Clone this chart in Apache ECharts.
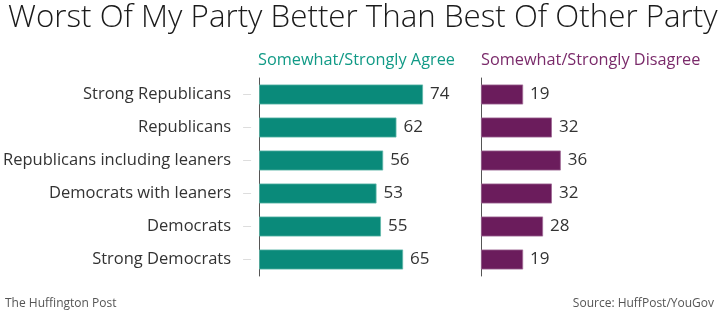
<!DOCTYPE html>
<html>
<head>
<meta charset="utf-8">
<script src="https://cdn.jsdelivr.net/npm/echarts@6/dist/echarts.min.js"></script>
<style>
  html, body { margin: 0; padding: 0; background: #fff; }
  #chart { width: 720px; height: 321px; }
</style>
</head>
<body>
<div id="chart"></div>
<script>
// Survey groups, top to bottom
const categories = [
  'Strong Republicans',
  'Republicans',
  'Republicans including leaners',
  'Democrats with leaners',
  'Democrats',
  'Strong Democrats'
];
// Percent who somewhat/strongly agree
const agree = [74, 62, 56, 53, 55, 65];
// Percent who somewhat/strongly disagree
const disagree = [19, 32, 36, 32, 28, 19];

const headers = ['Somewhat/Strongly Agree', 'Somewhat/Strongly Disagree'];

const TEAL = '#0a8a7a';
const PURPLE = '#6b1c5c';
const FONT = '"Open Sans", "Noto Sans", sans-serif';

const chart = echarts.init(document.getElementById('chart'), null, { renderer: 'canvas' });

const valueLabel = {
  show: true,
  position: 'right',
  distance: 7,
  fontFamily: FONT,
  fontSize: 17,
  color: '#333'
};

chart.setOption({
  backgroundColor: '#fff',
  animation: false,
  title: [
    {
      text: 'Worst Of My Party Better Than Best Of Other Party',
      left: 3, top: -2,
      textStyle: { fontFamily: FONT, fontSize: 31.3, fontWeight: 300, color: '#1a1a1a' }
    },
    {
      text: headers[0],
      left: 258, top: 52,
      padding: 0,
      textStyle: { fontFamily: FONT, fontSize: 16.3, fontWeight: 'normal', color: '#119a86' }
    },
    {
      text: headers[1],
      left: 481, top: 52,
      padding: 0,
      textStyle: { fontFamily: FONT, fontSize: 16.3, fontWeight: 'normal', color: '#7a2a6a' }
    },
    {
      text: 'The Huffington Post',
      left: 5, top: 298,
      padding: 0,
      textStyle: { fontFamily: FONT, fontSize: 12, fontWeight: 'normal', color: '#555' }
    },
    {
      text: 'Source: HuffPost/YouGov',
      right: 6, top: 298,
      padding: 0,
      textStyle: { fontFamily: FONT, fontSize: 12, fontWeight: 'normal', color: '#555' }
    }
  ],
  grid: [
    { left: 259, top: 78, width: 221.6, height: 198 },
    { left: 481, top: 78, width: 221.6, height: 198 }
  ],
  xAxis: [
    { type: 'value', gridIndex: 0, min: 0, max: 100, show: false },
    { type: 'value', gridIndex: 1, min: 0, max: 100, show: false }
  ],
  yAxis: [
    {
      type: 'category', gridIndex: 0, data: categories, inverse: true,
      axisLine: { lineStyle: { color: '#555', width: 1 } },
      axisTick: { show: false },
      axisLabel: { margin: 28, fontFamily: FONT, fontSize: 16.5, color: '#333' }
    },
    {
      type: 'category', gridIndex: 1, data: categories, inverse: true,
      axisLine: { lineStyle: { color: '#555', width: 1 } },
      axisTick: { show: false },
      axisLabel: { show: false }
    },
    {
      // faint leader ticks between the labels and the left axis
      type: 'category', gridIndex: 0, data: categories, inverse: true,
      position: 'left', offset: 8,
      axisLine: { show: false },
      axisTick: { show: true, alignWithLabel: true, length: 8, lineStyle: { color: '#ddd' } },
      axisLabel: { show: false }
    }
  ],
  series: [
    {
      type: 'bar', xAxisIndex: 0, yAxisIndex: 0, data: agree,
      barWidth: 20,
      itemStyle: { color: TEAL, borderColor: '#5fb8aa', borderWidth: 0.8 },
      label: valueLabel
    },
    {
      type: 'bar', xAxisIndex: 1, yAxisIndex: 1, data: disagree,
      barWidth: 20,
      itemStyle: { color: PURPLE, borderColor: '#a06a95', borderWidth: 0.8 },
      label: valueLabel
    }
  ]
});
</script>
</body>
</html>
